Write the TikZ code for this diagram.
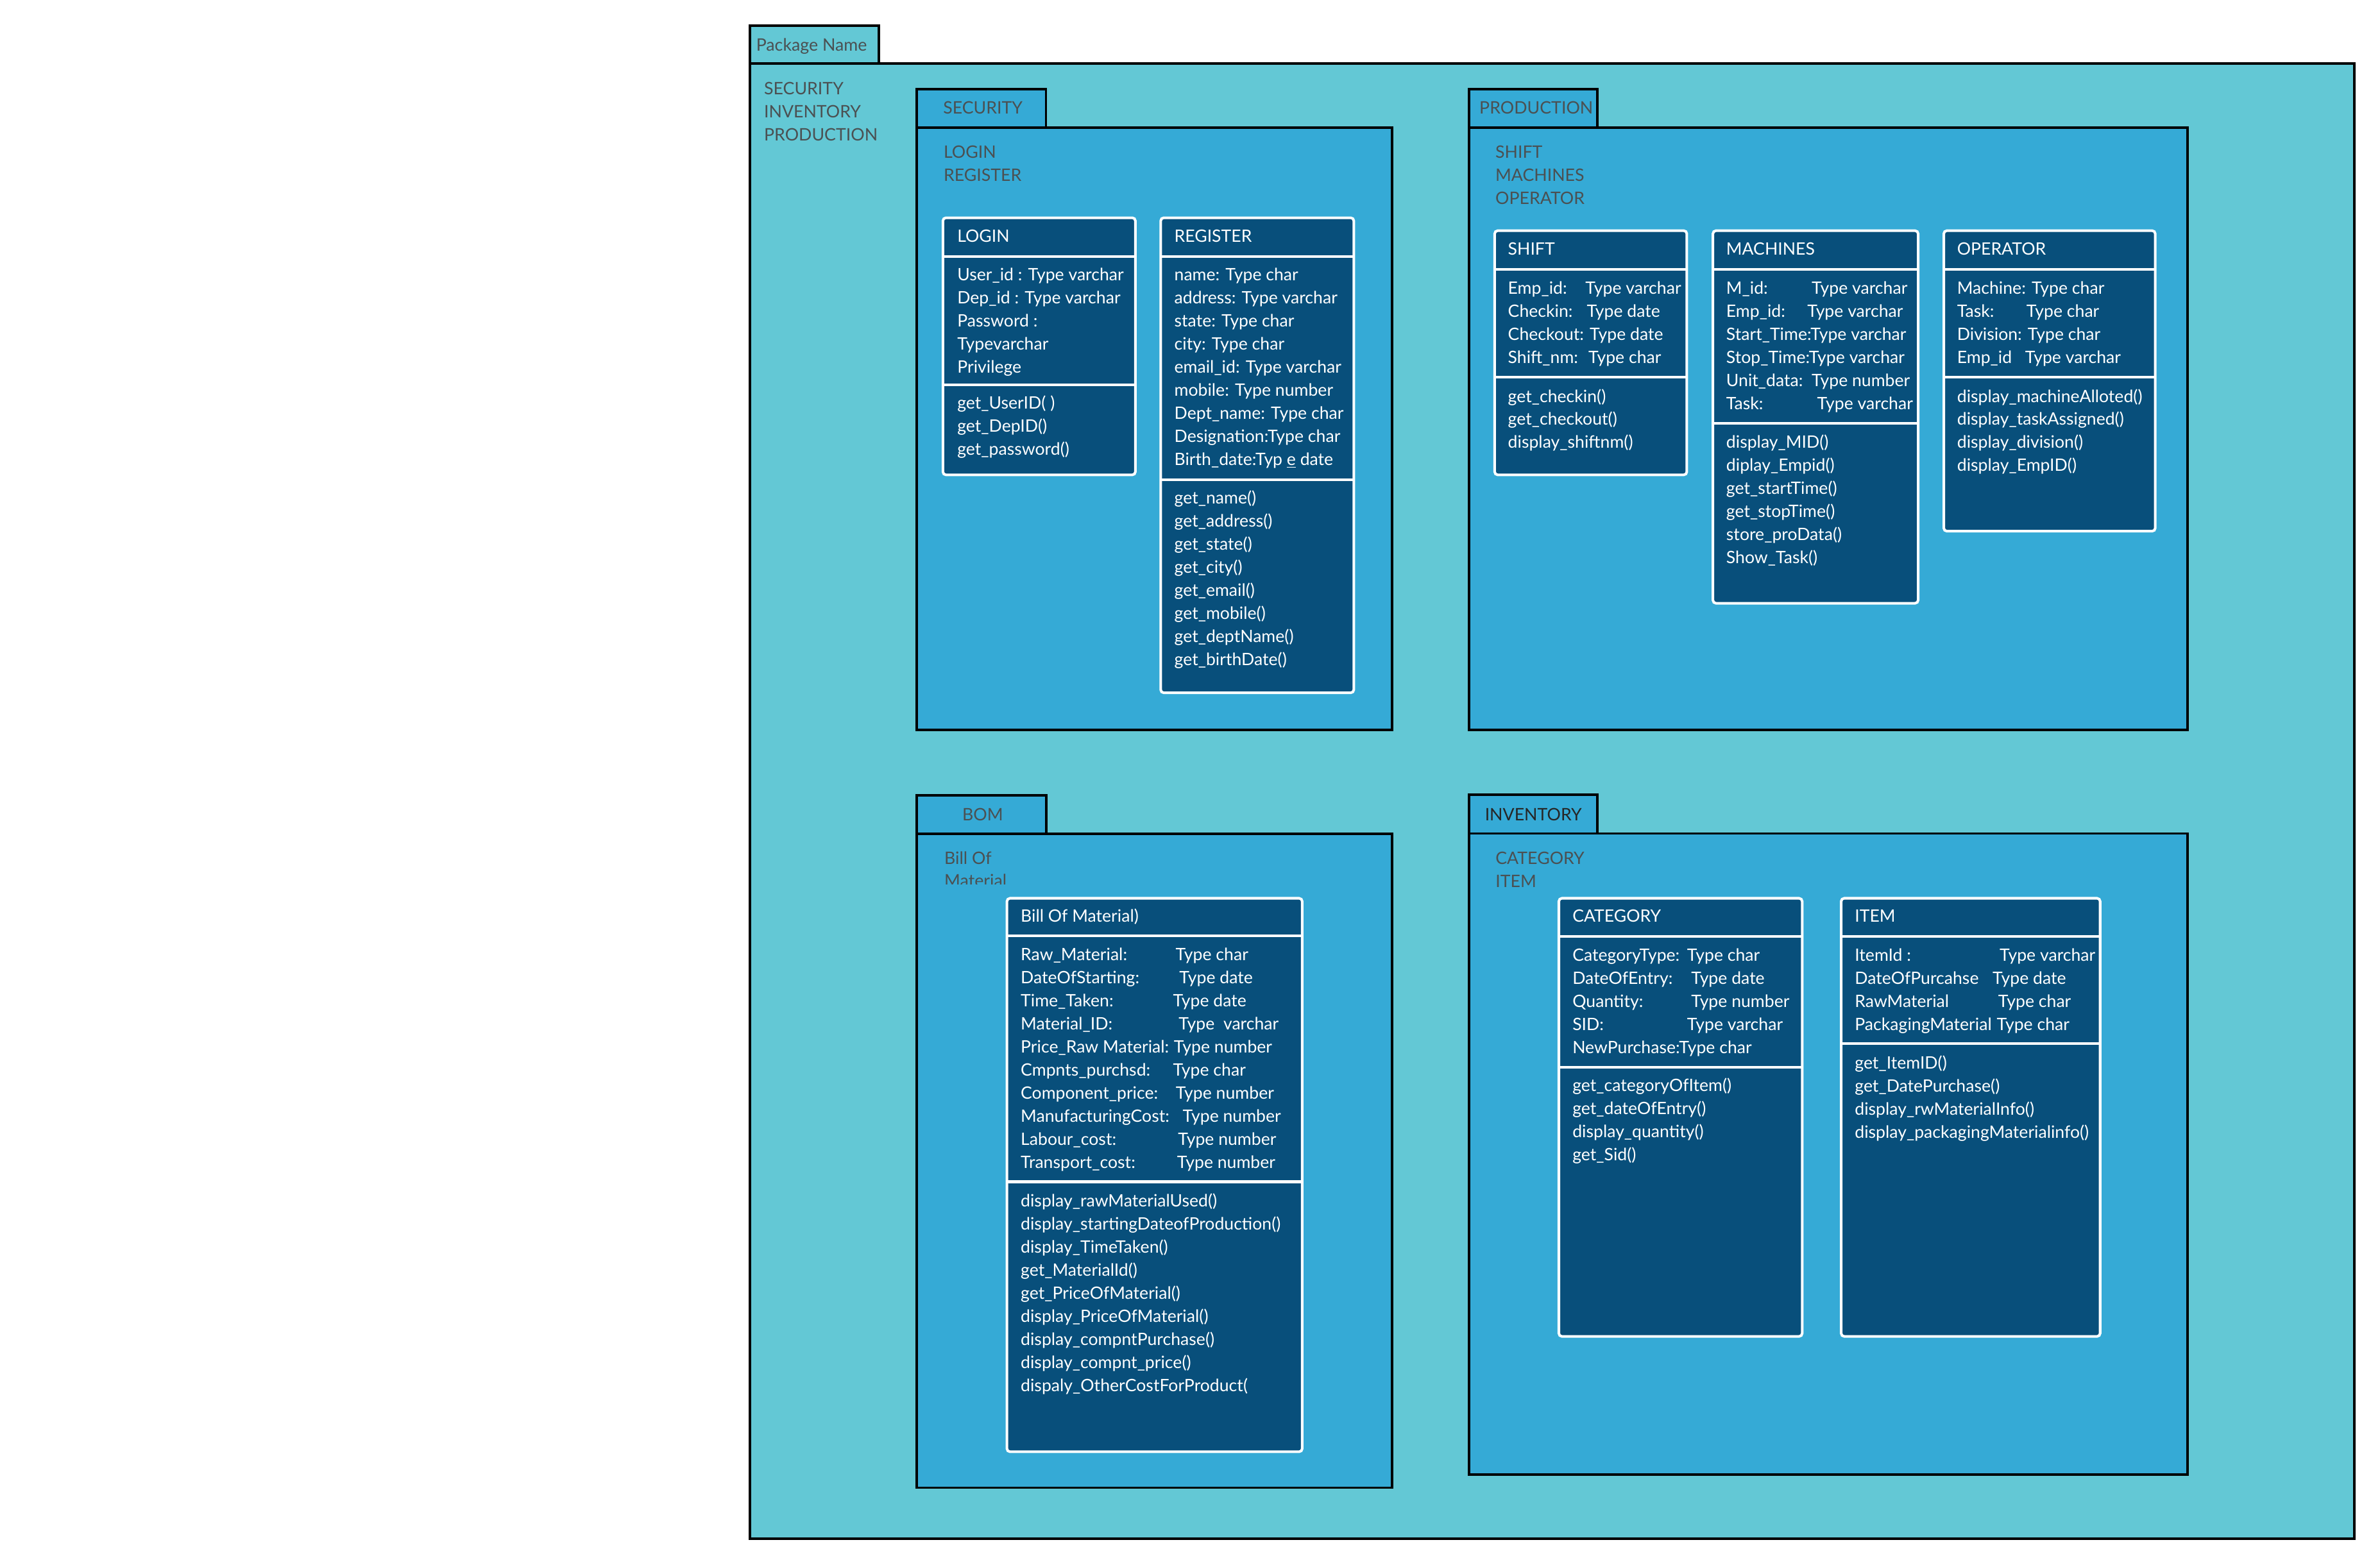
\documentclass[tikz,border=0pt]{standalone}
\usepackage{fontspec}
\setmainfont{Lato}
\definecolor{outerfill}{RGB}{99,200,213}
\definecolor{innerfill}{RGB}{53,170,214}
\definecolor{clsfill}{RGB}{8,79,123}
\definecolor{lbltext}{RGB}{75,80,82}
\newcommand\clsfont{\fontsize{11.25}{14}\selectfont}
\newcommand\lblfont{\fontsize{11.3}{14}\selectfont}
\tikzset{
  pkgbox/.style={draw=black, line width=1.6pt},
  clsbox/.style={draw=white, fill=clsfill, line width=1.7pt, rounded corners=2pt},
  clsline/.style={draw=white, line width=1.7pt},
  clstext/.style={anchor=base west, inner sep=0pt, text=white, font=\clsfont},
  pkglabel/.style={anchor=base west, inner sep=0pt, text=lbltext, font=\lblfont}
}

\begin{document}
\begin{tikzpicture}[x=1pt,y=-1pt]
\useasboundingbox (0,0) rectangle (1568,1031);
\fill[white] (0,0) rectangle (1568,1031);

% outer package
\draw[pkgbox,fill=outerfill] (494.2,16.9) rectangle (579,42);
\draw[pkgbox,fill=outerfill] (494.2,42) rectangle (1551,1014);
\node[pkglabel] (pkgname) at (498,33.8) {Package Name};
\foreach \t [count=\i from 0] in {SECURITY, INVENTORY, PRODUCTION}
  \node[pkglabel] (outer\i) at (503.2,{62.4+15.2*\i}) {\t};

% packages
\draw[pkgbox,fill=innerfill] (604,58.9) rectangle (689.1,84.2);
\draw[pkgbox,fill=innerfill] (604,84.2) rectangle (917,481);
\node[pkglabel] (sectab) at (621.2,75) {SECURITY};
\foreach \t [count=\i from 0] in {LOGIN, REGISTER}
  \node[pkglabel] (seclb\i) at (621.5,{104.3+15.2*\i}) {\t};

\draw[pkgbox,fill=innerfill] (968,58.9) rectangle (1052.3,84.2);
\draw[pkgbox,fill=innerfill] (968,84.2) rectangle (1441.3,481);
\node[pkglabel] (prodtab) at (974.5,75) {PRODUCTION};
\foreach \t [count=\i from 0] in {SHIFT, MACHINES, OPERATOR}
  \node[pkglabel] (prodlb\i) at (985,{104.3+15.2*\i}) {\t};

\draw[pkgbox,fill=innerfill] (604,524) rectangle (689.3,549.3);
\draw[pkgbox,fill=innerfill] (604,549.3) rectangle (917,980.3);
\node[pkglabel] (bomtab) at (633.8,540.6) {BOM};
\begin{scope}
  \clip (610,552) rectangle (700,582.8);
  \node[pkglabel] (bomlb0) at (622,569.4) {Bill Of};
  \node[pkglabel] (bomlb1) at (622,584.4) {Material};
\end{scope}

\draw[pkgbox,fill=innerfill] (968,523.8) rectangle (1052.4,549.2);
\draw[pkgbox,fill=innerfill] (968,549.2) rectangle (1441.3,971.8);
\node[pkglabel,text=black!85] (invtab) at (978.1,540.6) {INVENTORY};
\foreach \t [count=\i from 0] in {CATEGORY, ITEM}
  \node[pkglabel] (invlb\i) at (985.1,{569.7+15.2*\i}) {\t};

% LOGIN
\draw[clsbox] (621.2,143.5) rectangle (748,312.9);
\draw[clsline] (621.2,169) -- (748,169);
\draw[clsline] (621.2,253.4) -- (748,253.4);
\node[clstext] (loginhd) at (630.5,159.5) {LOGIN};
\foreach \t [count=\i from 0] in {User\_id : Type varchar, Dep\_id : Type varchar, Password :, Typevarchar, Privilege}
  \node[clstext] (logina\i) at (630.5,{184.9+15.2*\i}) {\t};
\foreach \t [count=\i from 0] in {get\_UserID( ), get\_DepID(), get\_password()}
  \node[clstext] (loginm\i) at (630.5,{269.4+15.2*\i}) {\t};

% REGISTER
\draw[clsbox] (764.7,143.5) rectangle (891.9,456.5);
\draw[clsline] (764.7,169) -- (891.9,169);
\draw[clsline] (764.7,316.1) -- (891.9,316.1);
\node[clstext] (reghd) at (773.5,159.5) {REGISTER};
\foreach \t [count=\i from 0] in {name: Type char, address: Type varchar, state: Type char, city: Type char, email\_id: Type varchar, mobile: Type number, Dept\_name: Type char, Designation:Type char, Birth\_date:Typ \underline{e} date}
  \node[clstext] (rega\i) at (773.5,{184.9+15.2*\i}) {\t};
\foreach \t [count=\i from 0] in {get\_name(), get\_address(), get\_state(), get\_city(), get\_email(), get\_mobile(), get\_deptName(), get\_birthDate()}
  \node[clstext] (regm\i) at (773.5,{332+15.2*\i}) {\t};

% SHIFT
\draw[clsbox] (984.7,152) rectangle (1111.3,312.9);
\draw[clsline] (984.7,177.5) -- (1111.3,177.5);
\draw[clsline] (984.7,248.4) -- (1111.3,248.4);
\node[clstext] (shifthd) at (993.3,168) {SHIFT};
\foreach \t [count=\i from 0] in {Emp\_id:, Checkin:, Checkout: Type date, Shift\_nm:}
  \node[clstext] (shifta\i) at (993.3,{193.9+15.2*\i}) {\t};
\foreach \i/\x/\t in {0/1044.3/Type varchar, 1/1045.2/Type date, 3/1046.3/Type char}
  \node[clstext] (shiftt\i) at (\x,{193.9+15.2*\i}) {\t};
\foreach \t [count=\i from 0] in {get\_checkin(), get\_checkout(), display\_shiftnm()}
  \node[clstext] (shiftm\i) at (993.3,{265+15.2*\i}) {\t};

% MACHINES
\draw[clsbox] (1128.5,152) rectangle (1263.7,397.5);
\draw[clsline] (1128.5,177.5) -- (1263.7,177.5);
\draw[clsline] (1128.5,278.8) -- (1263.7,278.8);
\node[clstext] (machhd) at (1137.1,168) {MACHINES};
\foreach \t [count=\i from 0] in {M\_id:, Emp\_id:, Start\_Time:Type varchar, Stop\_Time:Type varchar, Unit\_data:, Task:}
  \node[clstext] (macha\i) at (1137.1,{193.9+15.2*\i}) {\t};
\foreach \i/\x/\t in {0/1193.4/Type varchar, 1/1190.5/Type varchar, 4/1193.4/Type number, 5/1197/Type varchar}
  \node[clstext] (macht\i) at (\x,{193.9+15.2*\i}) {\t};
\foreach \t [count=\i from 0] in {display\_MID(), diplay\_Empid(), get\_startTime(), get\_stopTime(), store\_proData(), Show\_Task()}
  \node[clstext] (machm\i) at (1137.1,{295.2+15.2*\i}) {\t};

% OPERATOR
\draw[clsbox] (1280.6,152) rectangle (1419.9,350);
\draw[clsline] (1280.6,177.5) -- (1419.9,177.5);
\draw[clsline] (1280.6,248.4) -- (1419.9,248.4);
\node[clstext] (operhd) at (1289.2,168) {OPERATOR};
\foreach \t [count=\i from 0] in {Machine: Type char, Task:, Division: Type char, Emp\_id}
  \node[clstext] (opera\i) at (1289.2,{193.9+15.2*\i}) {\t};
\foreach \i/\x/\t in {1/1334.9/Type char, 3/1334/Type varchar}
  \node[clstext] (opert\i) at (\x,{193.9+15.2*\i}) {\t};
\foreach \t [count=\i from 0] in {display\_machineAlloted(), display\_taskAssigned(), display\_division(), display\_EmpID()}
  \node[clstext] (operm\i) at (1289.2,{265+15.2*\i}) {\t};

% Bill Of Material
\draw[clsbox] (663.4,591.9) rectangle (857.9,956.6);
\draw[clsline] (663.4,616.8) -- (857.9,616.8);
\draw[clsline] (663.4,778.7) -- (857.9,778.7);
\node[clstext] (bomhd) at (672.3,607.6) {Bill Of Material)};
\foreach \t [count=\i from 0] in {Raw\_Material:, DateOfStarting:, Time\_Taken:, Material\_ID:, Price\_Raw Material:, Cmpnts\_purchsd:, Component\_price:, ManufacturingCost:, Labour\_cost:, Transport\_cost:}
  \node[clstext] (boma\i) at (672.3,{633.1+15.2*\i}) {\t};
\foreach \i/\x/\t in {0/774.3/Type char, 1/776.8/Type date, 2/772.6/Type date, 3/776.3/Type\ \ varchar, 4/773.2/Type number, 5/772.6/Type char, 6/774.4/Type number, 7/779/Type number, 8/775.9/Type number, 9/775.3/Type number}
  \node[clstext] (bomt\i) at (\x,{633.1+15.2*\i}) {\t};
\foreach \t [count=\i from 0] in {display\_rawMaterialUsed(), display\_startingDateofProduction(), display\_TimeTaken(), get\_MaterialId(), get\_PriceOfMaterial(), display\_PriceOfMaterial(), display\_compntPurchase(), display\_compnt\_price(), dispaly\_OtherCostForProduct(}
  \node[clstext] (bomm\i) at (672.3,{795.3+15.2*\i}) {\t};

% CATEGORY
\draw[clsbox] (1027,591.9) rectangle (1187.3,880.6);
\draw[clsline] (1027,616.9) -- (1187.3,616.9);
\draw[clsline] (1027,703.1) -- (1187.3,703.1);
\node[clstext] (cathd) at (1035.8,607.6) {CATEGORY};
\foreach \t [count=\i from 0] in {CategoryType:, DateOfEntry:, Quantity:, SID:, NewPurchase:Type char}
  \node[clstext] (cata\i) at (1035.8,{633.3+15.2*\i}) {\t};
\foreach \i/\x/\t in {0/1111.3/Type char, 1/1114/Type date, 2/1114/Type number, 3/1111.3/Type varchar}
  \node[clstext] (catt\i) at (\x,{633.3+15.2*\i}) {\t};
\foreach \t [count=\i from 0] in {get\_categoryOfItem(), get\_dateOfEntry(), display\_quantity(), get\_Sid()}
  \node[clstext] (catm\i) at (1035.8,{719.2+15.2*\i}) {\t};

% ITEM
\draw[clsbox] (1213,591.9) rectangle (1383.6,880.6);
\draw[clsline] (1213,616.9) -- (1383.6,616.9);
\draw[clsline] (1213,687.7) -- (1383.6,687.7);
\node[clstext] (itemhd) at (1221.8,607.6) {ITEM};
\foreach \t [count=\i from 0] in {ItemId :, DateOfPurcahse, RawMaterial, PackagingMaterial}
  \node[clstext] (itema\i) at (1221.8,{633.3+15.2*\i}) {\t};
\foreach \i/\x/\t in {0/1317.2/Type varchar, 1/1312.6/Type date, 2/1316.3/Type char, 3/1315.3/Type char}
  \node[clstext] (itemt\i) at (\x,{633.3+15.2*\i}) {\t};
\foreach \t [count=\i from 0] in {get\_ItemID(), get\_DatePurchase(), display\_rwMaterialInfo(), display\_packagingMaterialinfo()}
  \node[clstext] (itemm\i) at (1221.8,{704.4+15.2*\i}) {\t};
\end{tikzpicture}
\end{document}
